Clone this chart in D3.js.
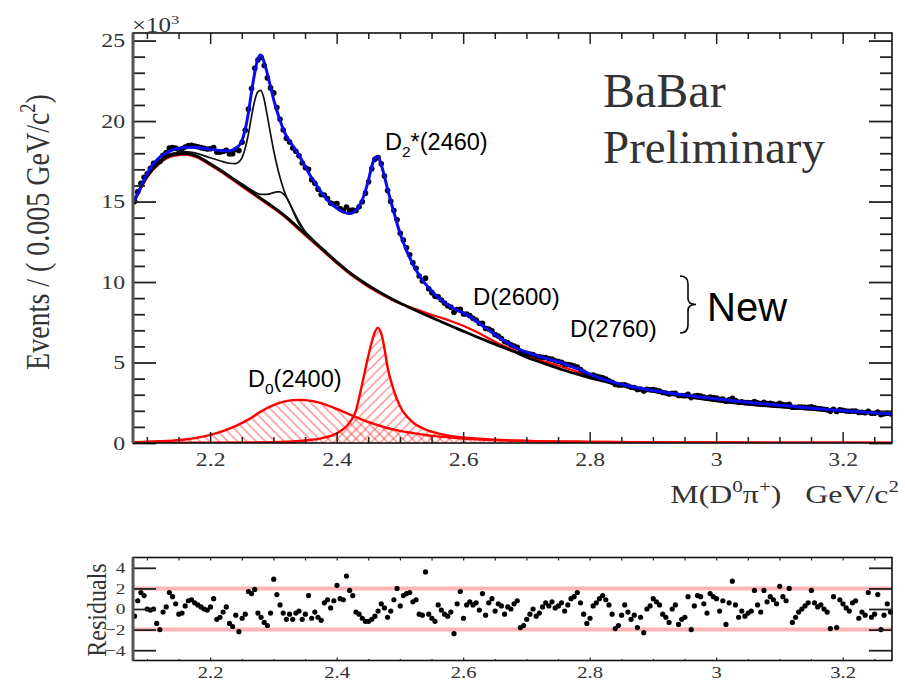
<!DOCTYPE html>
<html>
<head>
<meta charset="utf-8">
<script src="https://cdn.jsdelivr.net/npm/d3@7"></script>
<style>
  body { margin: 0; background: #fff; }
  svg { display: block; }
  .rootfont { font-family: "Liberation Serif", "Times New Roman", serif; fill: #333; }
  .ann { font-family: "Liberation Sans", Arial, sans-serif; fill: #000; }
</style>
</head>
<body>
<svg id="chart" width="905" height="681"></svg>
<script>
// ---------------- histogram: M(D0 pi+) in 5 MeV bins ----------------
const massLow = 2.078;
const binWidth = 0.005;
const nBins = 240;
const binCenters = d3.range(nBins).map(i => massLow + binWidth * (i + 0.5));

// events per bin, in units of 10^3
const events = [
  15.01, 15.60, 16.14, 16.51, 16.73, 17.07, 17.37, 17.38, 17.49, 17.87,
  18.04, 18.32, 18.36, 18.32, 18.23, 18.28, 18.39, 18.48, 18.49, 18.44,
  18.40, 18.35, 18.30, 18.26, 18.28, 18.35, 18.07, 18.06, 18.11, 18.18,
  17.96, 17.97, 18.23, 18.17, 18.68, 19.43, 20.74, 22.02, 23.28, 23.79,
  23.96, 23.45, 22.68, 22.06, 21.75, 20.84, 20.11, 19.44, 18.93, 18.70,
  18.33, 18.12, 17.84, 17.39, 17.10, 17.00, 16.35, 16.13, 15.77, 15.44,
  15.40, 15.19, 14.90, 14.84, 14.87, 14.56, 14.45, 14.66, 14.46, 14.47,
  14.43, 14.67, 14.99, 15.52, 16.23, 17.03, 17.62, 17.73, 17.35, 16.59,
  15.68, 15.01, 14.44, 13.87, 13.03, 12.60, 12.13, 11.69, 11.19, 10.86,
  10.37, 10.07, 10.24, 9.58, 9.34, 9.11, 9.08, 8.88, 8.69, 8.53,
  8.44, 8.13, 8.29, 8.30, 8.01, 8.01, 7.91, 7.75, 7.64, 7.44,
  7.44, 7.12, 7.08, 6.97, 6.73, 6.65, 6.49, 6.30, 6.23, 6.10,
  6.03, 5.95, 5.66, 5.60, 5.57, 5.53, 5.50, 5.39, 5.35, 5.33,
  5.31, 5.23, 5.21, 5.11, 5.06, 5.02, 4.90, 4.88, 4.85, 4.78,
  4.72, 4.57, 4.41, 4.27, 4.21, 4.22, 4.15, 4.10, 4.05, 3.97,
  3.87, 3.77, 3.63, 3.60, 3.61, 3.62, 3.54, 3.46, 3.44, 3.33,
  3.35, 3.23, 3.33, 3.31, 3.32, 3.27, 3.22, 3.14, 3.10, 3.04,
  3.08, 3.08, 2.95, 2.95, 2.94, 3.02, 2.82, 2.92, 2.95, 2.91,
  2.86, 2.79, 2.86, 2.82, 2.79, 2.71, 2.73, 2.59, 2.68, 2.77,
  2.63, 2.55, 2.56, 2.51, 2.51, 2.50, 2.58, 2.49, 2.45, 2.53,
  2.45, 2.46, 2.42, 2.39, 2.46, 2.39, 2.35, 2.40, 2.22, 2.22,
  2.23, 2.23, 2.21, 2.21, 2.25, 2.18, 2.14, 2.13, 2.10, 2.07,
  1.98, 2.10, 1.96, 2.06, 2.03, 1.99, 1.97, 1.99, 1.99, 1.90,
  1.91, 1.88, 1.97, 1.85, 1.85, 1.92, 1.76, 1.81, 1.85, 1.81
];

// fit residuals (pulls) per bin
const residuals = [
  -0.7, 0.8, 1.6, 1.3, 0.0, -0.1, 0.0, -1.4, -2.0, -0.3,
  0.2, 1.6, 1.2, 0.5, -0.5, -0.4, 0.3, 0.8, 0.9, 0.6,
  0.4, 0.2, 0.0, -0.1, 0.2, 1.0, -1.0, -0.8, -0.3, 0.2,
  -1.4, -1.7, -0.6, -2.2, -0.9, -0.5, 1.7, 1.5, 1.9, -0.4,
  -0.8, -1.3, -1.6, -0.4, 2.9, 1.4, 0.4, -0.4, -1.0, -0.5,
  -1.0, -0.4, -0.2, -1.0, -0.5, 1.3, -0.9, -0.3, -0.8, -1.1,
  0.6, 0.9, 0.1, 0.8, 2.3, 1.0, 0.9, 3.2, 1.8, 1.3,
  -0.3, -0.5, -0.9, -1.2, -1.2, -1.0, -0.7, -0.2, 0.5, 0.1,
  -0.8, -0.2, 0.9, 2.0, 0.3, 1.3, 1.5, 1.6, 0.7, 0.9,
  -0.5, -0.6, 3.6, -0.5, -0.9, -1.2, 0.4, -0.1, -0.5, -0.7,
  -0.3, -2.4, 0.5, 1.7, -0.9, 0.4, 0.7, 0.4, 0.6, -0.1,
  1.5, -0.6, 0.6, 1.0, -0.2, 0.5, 0.3, -0.5, 0.2, 0.0,
  0.5, 0.8, -1.8, -1.6, -1.0, -0.5, 0.0, -0.7, -0.4, 0.2,
  0.6, 0.3, 0.7, 0.1, 0.3, 0.6, -0.2, 0.4, 1.0, 1.2,
  1.6, 0.6, -0.5, -1.4, -0.9, 0.3, 0.6, 1.0, 1.3, 0.9,
  0.4, -0.5, -1.9, -1.6, -0.6, 0.4, -0.3, -1.0, -0.6, -1.8,
  -0.8, -2.3, 0.0, 0.3, 1.0, 0.7, 0.4, -0.5, -0.8, -1.3,
  0.0, 0.4, -1.5, -1.0, -0.8, 1.2, -2.0, 0.3, 1.3, 1.2,
  0.5, -0.4, 1.5, 1.2, 1.0, -0.2, 0.8, -1.5, 0.6, 2.7,
  0.4, -0.8, -0.2, -0.7, -0.4, -0.2, 1.8, 0.4, -0.3, 1.8,
  0.7, 1.2, 0.9, 0.5, 2.2, 1.2, 0.8, 2.0, -1.3, -0.8,
  -0.3, 0.0, 0.3, 0.6, 1.8, 0.6, 0.2, 0.4, 0.0, -0.3,
  -1.9, 1.2, -1.8, 0.9, 0.5, 0.1, -0.2, 0.6, 0.8, -0.9,
  -0.3, -0.6, 1.6, -0.8, -0.5, 1.4, -2.0, -0.6, 0.5, -0.3
];

// ---------------- fit curves (10^3 events / 5 MeV) ----------------
// total fit
const fitMass = [2.078, 2.085, 2.09, 2.095, 2.10, 2.105, 2.11, 2.115, 2.12, 2.125, 2.13, 2.14, 2.15, 2.16, 2.17, 2.18, 2.19, 2.20, 2.21, 2.22, 2.23, 2.235, 2.24, 2.245, 2.25, 2.255, 2.26, 2.265, 2.27, 2.275, 2.28, 2.285, 2.29, 2.295, 2.30, 2.305, 2.31, 2.315, 2.32, 2.325, 2.33, 2.34, 2.35, 2.36, 2.37, 2.38, 2.39, 2.40, 2.41, 2.42, 2.425, 2.43, 2.435, 2.44, 2.445, 2.45, 2.455, 2.46, 2.465, 2.47, 2.475, 2.48, 2.485, 2.49, 2.495, 2.50, 2.505, 2.51, 2.52, 2.53, 2.54, 2.55, 2.56, 2.57, 2.58, 2.59, 2.60, 2.61, 2.62, 2.63, 2.64, 2.65, 2.66, 2.67, 2.68, 2.69, 2.70, 2.72, 2.74, 2.76, 2.78, 2.80, 2.82, 2.84, 2.86, 2.88, 2.90, 2.92, 2.94, 2.96, 2.98, 3.00, 3.02, 3.04, 3.06, 3.08, 3.10, 3.12, 3.14, 3.16, 3.18, 3.20, 3.22, 3.24, 3.26, 3.278];
const totalFit = [14.95, 15.45, 15.9, 16.3, 16.7, 17.05, 17.35, 17.55, 17.75, 17.9, 18.0, 18.2, 18.3, 18.35, 18.37, 18.35, 18.3, 18.25, 18.2, 18.15, 18.15, 18.2, 18.3, 18.45, 18.75, 19.4, 20.4, 21.7, 22.9, 23.8, 24.1, 23.7, 23.0, 22.2, 21.4, 20.7, 20.1, 19.55, 19.1, 18.8, 18.5, 17.9, 17.2, 16.5, 15.9, 15.35, 14.9, 14.6, 14.35, 14.25, 14.3, 14.45, 14.7, 15.05, 15.6, 16.3, 17.1, 17.7, 17.8, 17.35, 16.65, 15.85, 15.1, 14.4, 13.7, 13.05, 12.5, 12.0, 11.15, 10.45, 9.9, 9.45, 9.05, 8.75, 8.48, 8.25, 8.08, 7.86, 7.6, 7.3, 7.02, 6.74, 6.47, 6.22, 5.99, 5.8, 5.64, 5.38, 5.16, 4.92, 4.62, 4.28, 3.98, 3.75, 3.56, 3.4, 3.26, 3.14, 3.03, 2.93, 2.83, 2.74, 2.65, 2.57, 2.49, 2.42, 2.35, 2.28, 2.2, 2.13, 2.07, 2.01, 1.95, 1.9, 1.85, 1.81];

// combinatorial background, and background plus D(2600) and D(2760)
const bgMass = [2.078, 2.09, 2.10, 2.12, 2.14, 2.16, 2.18, 2.20, 2.22, 2.24, 2.26, 2.28, 2.30, 2.32, 2.34, 2.36, 2.38, 2.40, 2.42, 2.44, 2.46, 2.48, 2.50, 2.52, 2.54, 2.56, 2.58, 2.60, 2.62, 2.64, 2.66, 2.68, 2.70, 2.72, 2.74, 2.76, 2.78, 2.80, 2.82, 2.84, 2.86, 2.88, 2.90, 2.92, 2.94, 2.96, 2.98, 3.00, 3.02, 3.04, 3.06, 3.08, 3.10, 3.12, 3.14, 3.16, 3.18, 3.20, 3.22, 3.24, 3.26, 3.278];
const background = [14.9, 15.85, 16.55, 17.45, 17.9, 18.0, 17.8, 17.35, 16.85, 16.3, 15.75, 15.2, 14.65, 14.05, 13.35, 12.65, 11.95, 11.25, 10.6, 10.05, 9.55, 9.1, 8.7, 8.33, 7.97, 7.62, 7.28, 6.95, 6.62, 6.3, 5.99, 5.69, 5.33, 5.05, 4.78, 4.52, 4.28, 4.05, 3.86, 3.68, 3.51, 3.36, 3.21, 3.07, 2.95, 2.83, 2.72, 2.62, 2.53, 2.45, 2.37, 2.3, 2.24, 2.18, 2.12, 2.06, 2.01, 1.96, 1.91, 1.86, 1.81, 1.77];
const bgWithNewStates = [14.82, 15.77, 16.47, 17.37, 17.82, 17.92, 17.72, 17.27, 16.77, 16.22, 15.67, 15.12, 14.57, 13.97, 13.27, 12.57, 11.87, 11.17, 10.52, 9.97, 9.47, 9.04, 8.66, 8.38, 8.1, 7.84, 7.58, 7.28, 6.92, 6.51, 6.1, 5.76, 5.42, 5.16, 4.93, 4.69, 4.43, 4.16, 3.92, 3.71, 3.52, 3.36, 3.21, 3.07, 2.95, 2.83, 2.72, 2.62, 2.53, 2.45, 2.37, 2.3, 2.24, 2.18, 2.12, 2.06, 2.01, 1.96, 1.91, 1.86, 1.81, 1.77];

// background plus both feed-down reflections
const feedMass = [2.078, 2.09, 2.10, 2.12, 2.14, 2.16, 2.18, 2.20, 2.22, 2.23, 2.24, 2.245, 2.25, 2.255, 2.26, 2.265, 2.27, 2.275, 2.28, 2.285, 2.29, 2.295, 2.30, 2.305, 2.31, 2.315, 2.32, 2.33, 2.34, 2.35, 2.36, 2.38, 2.40, 2.42, 2.44];
const bgWithFeedDown = [14.9, 15.88, 16.6, 17.55, 18.0, 18.1, 17.98, 17.72, 17.48, 17.38, 17.35, 17.45, 17.7, 18.25, 19.1, 20.2, 21.2, 21.8, 21.9, 21.4, 20.4, 19.3, 18.25, 17.35, 16.55, 15.9, 15.35, 14.55, 13.8, 13.15, 12.75, 12.0, 11.28, 10.62, 10.06];

// background plus the reflection at 2.32
const reflMass = [2.20, 2.22, 2.24, 2.25, 2.26, 2.27, 2.28, 2.29, 2.30, 2.305, 2.31, 2.315, 2.32, 2.325, 2.33, 2.335, 2.34, 2.35, 2.36, 2.38, 2.40];
const bgWithReflection = [17.35, 16.87, 16.35, 16.1, 15.85, 15.6, 15.45, 15.45, 15.55, 15.6, 15.6, 15.5, 15.3, 14.95, 14.5, 14.05, 13.65, 13.1, 12.68, 11.96, 11.26];

// D0*(2400) component
const d0Mass = [2.078, 2.10, 2.12, 2.14, 2.16, 2.18, 2.20, 2.22, 2.24, 2.26, 2.28, 2.30, 2.32, 2.34, 2.36, 2.38, 2.40, 2.42, 2.44, 2.46, 2.48, 2.50, 2.52, 2.54, 2.56, 2.58, 2.60, 2.65, 2.70, 2.80, 2.90, 3.00, 3.10, 3.20, 3.278];
const d0_2400 = [0.05, 0.08, 0.11, 0.15, 0.22, 0.33, 0.5, 0.74, 1.05, 1.45, 1.95, 2.35, 2.6, 2.68, 2.62, 2.42, 2.12, 1.78, 1.45, 1.17, 0.93, 0.75, 0.62, 0.5, 0.41, 0.34, 0.28, 0.18, 0.12, 0.07, 0.04, 0.03, 0.02, 0.015, 0.01];

// D2*(2460) component
const d2Mass = [2.078, 2.20, 2.30, 2.34, 2.38, 2.40, 2.42, 2.43, 2.44, 2.45, 2.455, 2.46, 2.465, 2.47, 2.475, 2.48, 2.49, 2.50, 2.52, 2.54, 2.56, 2.58, 2.60, 2.65, 2.70, 2.80, 2.90, 3.00, 3.10, 3.20, 3.278];
const d2_2460 = [0.01, 0.02, 0.05, 0.12, 0.33, 0.6, 1.25, 1.95, 3.6, 5.4, 6.2, 6.85, 7.15, 6.85, 6.0, 4.8, 3.3, 2.3, 1.3, 0.85, 0.6, 0.44, 0.34, 0.2, 0.13, 0.07, 0.045, 0.03, 0.025, 0.02, 0.015];

// axis ticks
const xMajorTicks = [2.2, 2.4, 2.6, 2.8, 3.0, 3.2];
const xMinorTicks = [2.1, 2.15, 2.25, 2.3, 2.35, 2.45, 2.5, 2.55, 2.65, 2.7, 2.75, 2.85, 2.9, 2.95, 3.05, 3.1, 3.15, 3.25];
const yMajorTicks = [0, 5, 10, 15, 20, 25];
const yMinorTicks = [1, 2, 3, 4, 6, 7, 8, 9, 11, 12, 13, 14, 16, 17, 18, 19, 21, 22, 23, 24];
const resTicks = [-4, -2, 0, 2, 4];
const resBands = [-2, 2];

// ---------------- layout ----------------
const svg = d3.select('#chart');
const X0 = 133, X1 = 892, Y0 = 443, Y1 = 33;
const R0 = 660.5, R1 = 557.5;
const STRETCH = 1.25;   // ROOT canvas text is wider than tall

const x = d3.scaleLinear().domain([2.078, 3.278]).range([X0, X1]);
const y = d3.scaleLinear().domain([0, 25.47]).range([Y0, Y1]);
const yr = d3.scaleLinear().domain([-5, 5]).range([R0, R1]);

const defs = svg.append('defs');
defs.append('clipPath').attr('id', 'plotClip')
  .append('rect').attr('x', X0).attr('y', Y1).attr('width', X1 - X0).attr('height', Y0 - Y1);

function hatch(id, angle) {
  const p = defs.append('pattern').attr('id', id)
    .attr('patternUnits', 'userSpaceOnUse')
    .attr('width', 6.6).attr('height', 6.6)
    .attr('patternTransform', `rotate(${angle})`);
  p.append('line').attr('x1', 1).attr('y1', 0).attr('x2', 1).attr('y2', 6.6)
    .attr('stroke', '#ff2a2a').attr('stroke-width', 1.1).attr('stroke-opacity', 0.7);
}
hatch('hatchBack', -45);
hatch('hatchFwd', 45);

function curvePath(xs, ys, yScale) {
  return d3.line().x((d, i) => x(xs[i])).y(d => yScale(d)).curve(d3.curveMonotoneX)(ys);
}
function areaPath(xs, ys) {
  return d3.area().x((d, i) => x(xs[i])).y0(y(0)).y1(d => y(d)).curve(d3.curveMonotoneX)(ys);
}

// rich text with super/subscripts, sizes in px
function richText(sel, parts, fs) {
  let shift = 0;
  parts.forEach(p => {
    const target = p.sup ? -0.42 * fs : (p.sub ? 0.3 * fs : 0);
    sel.append('tspan')
      .attr('dy', target - shift)
      .attr('font-size', (p.sup || p.sub) ? fs * 0.66 : fs)
      .text(p.t);
    shift = target;
  });
}

// ---------------- main panel ----------------
const plot = svg.append('g').attr('clip-path', 'url(#plotClip)');

plot.append('path').attr('d', areaPath(d0Mass, d0_2400)).attr('fill', 'url(#hatchBack)');
plot.append('path').attr('d', areaPath(d2Mass, d2_2460)).attr('fill', 'url(#hatchFwd)');

plot.append('path').attr('d', curvePath(d0Mass, d0_2400, y))
  .attr('fill', 'none').attr('stroke', '#ff0000').attr('stroke-width', 2.4);
plot.append('path').attr('d', curvePath(d2Mass, d2_2460, y))
  .attr('fill', 'none').attr('stroke', '#ff0000').attr('stroke-width', 2.4);

plot.append('path').attr('d', curvePath(bgMass, bgWithNewStates, y))
  .attr('fill', 'none').attr('stroke', '#ff0000').attr('stroke-width', 2.2);
plot.append('path').attr('d', curvePath(bgMass, background, y))
  .attr('fill', 'none').attr('stroke', '#000').attr('stroke-width', 2.8);
plot.append('path').attr('d', curvePath(reflMass, bgWithReflection, y))
  .attr('fill', 'none').attr('stroke', '#111').attr('stroke-width', 1.7);
plot.append('path').attr('d', curvePath(feedMass, bgWithFeedDown, y))
  .attr('fill', 'none').attr('stroke', '#111').attr('stroke-width', 1.7);

plot.append('g').selectAll('circle').data(events).join('circle')
  .attr('cx', (d, i) => x(binCenters[i])).attr('cy', d => y(d))
  .attr('r', 2.8).attr('fill', '#000');

plot.append('path').attr('d', curvePath(fitMass, totalFit, y))
  .attr('fill', 'none').attr('stroke', '#0a0aef').attr('stroke-width', 3);

// frame and axes
function styleTicks(g, w) {
  g.select('.domain').remove();
  g.selectAll('.tick line').attr('stroke', '#222').attr('stroke-width', w || 1.5);
}
function stretchLabels(g, fs) {
  g.selectAll('.tick text')
    .attr('class', 'rootfont').attr('font-size', fs).attr('fill', '#333')
    .attr('transform', `scale(${STRETCH},1)`);
}

svg.append('g').attr('transform', `translate(0,${Y0})`)
  .call(d3.axisBottom(x).tickValues(xMajorTicks).tickSize(-11).tickPadding(10).tickFormat(d3.format('~g')))
  .call(g => { styleTicks(g); stretchLabels(g, 19); });
svg.append('g').attr('transform', `translate(0,${Y0})`)
  .call(d3.axisBottom(x).tickValues(xMinorTicks).tickSize(-6).tickFormat(''))
  .call(g => styleTicks(g));
svg.append('g').attr('transform', `translate(0,${Y1})`)
  .call(d3.axisTop(x).tickValues(xMajorTicks).tickSize(-11).tickFormat(''))
  .call(g => styleTicks(g));
svg.append('g').attr('transform', `translate(0,${Y1})`)
  .call(d3.axisTop(x).tickValues(xMinorTicks).tickSize(-6).tickFormat(''))
  .call(g => styleTicks(g));

svg.append('g').attr('transform', `translate(${X0},0)`)
  .call(d3.axisLeft(y).tickValues(yMajorTicks).tickSize(-23).tickPadding(6.4).tickFormat(d3.format('d')))
  .call(g => { styleTicks(g, 1.8); stretchLabels(g, 19); });
svg.append('g').attr('transform', `translate(${X0},0)`)
  .call(d3.axisLeft(y).tickValues(yMinorTicks).tickSize(-12).tickFormat(''))
  .call(g => styleTicks(g, 1.8));
svg.append('g').attr('transform', `translate(${X1},0)`)
  .call(d3.axisRight(y).tickValues(yMajorTicks).tickSize(-23).tickFormat(''))
  .call(g => styleTicks(g, 1.8));
svg.append('g').attr('transform', `translate(${X1},0)`)
  .call(d3.axisRight(y).tickValues(yMinorTicks).tickSize(-12).tickFormat(''))
  .call(g => styleTicks(g, 1.8));

svg.append('rect').attr('x', X0).attr('y', Y1).attr('width', X1 - X0).attr('height', Y0 - Y1)
  .attr('fill', 'none').attr('stroke', '#111').attr('stroke-width', 1.6);
svg.append('line').attr('x1', X0).attr('x2', X0).attr('y1', Y1).attr('y2', Y0)
  .attr('stroke', '#555').attr('stroke-width', 3);

// exponent and axis titles
const expo = svg.append('g').attr('transform', `translate(${X0 - 1},32) scale(${STRETCH},1)`)
  .append('text').attr('class', 'rootfont');
richText(expo, [{ t: '×10' }, { t: '3', sup: true }], 20);

const ytitle = svg.append('g').attr('transform', `translate(49,232) rotate(-90) scale(1,1.2)`)
  .append('text').attr('class', 'rootfont').attr('text-anchor', 'middle').style('white-space', 'pre');
richText(ytitle, [{ t: 'Events / ( 0.005 GeV/c' }, { t: '2', sup: true }, { t: ')' }], 28);

const xtitle = svg.append('g').attr('transform', `translate(899,503) scale(${STRETCH},1)`)
  .append('text').attr('class', 'rootfont').attr('text-anchor', 'end').style('white-space', 'pre');
richText(xtitle, [{ t: 'M(D' }, { t: '0', sup: true }, { t: 'π' }, { t: '+', sup: true }, { t: ')   GeV/c' }, { t: '2', sup: true }], 25.5);

// experiment label
svg.append('text').attr('class', 'rootfont').attr('x', 603).attr('y', 107)
  .attr('font-size', 48).attr('fill', '#111').text('BaBar');
svg.append('text').attr('class', 'rootfont').attr('x', 603).attr('y', 163)
  .attr('font-size', 47).attr('fill', '#111').text('Preliminary');

// resonance labels
const lblD2 = svg.append('text').attr('class', 'ann').attr('x', 385).attr('y', 150);
richText(lblD2, [{ t: 'D' }, { t: '2', sub: true }, { t: '*(2460)' }], 23.5);
const lblD0 = svg.append('text').attr('class', 'ann').attr('x', 248).attr('y', 387);
richText(lblD0, [{ t: 'D' }, { t: '0', sub: true }, { t: '(2400)' }], 23.5);
svg.append('text').attr('class', 'ann').attr('x', 473).attr('y', 305).attr('font-size', 24).text('D(2600)');
svg.append('text').attr('class', 'ann').attr('x', 570).attr('y', 337).attr('font-size', 24).text('D(2760)');

// brace grouping the two new states
const bx = 680, bTop = 276, bBot = 333, bMid = (bTop + bBot) / 2;
const brace = d3.path();
brace.moveTo(bx, bTop);
brace.quadraticCurveTo(bx + 8, bTop, bx + 8, bTop + 8);
brace.lineTo(bx + 8, bMid - 6);
brace.quadraticCurveTo(bx + 8, bMid, bx + 16, bMid);
brace.quadraticCurveTo(bx + 8, bMid, bx + 8, bMid + 6);
brace.lineTo(bx + 8, bBot - 8);
brace.quadraticCurveTo(bx + 8, bBot, bx, bBot);
svg.append('path').attr('d', brace.toString()).attr('fill', 'none').attr('stroke', '#000').attr('stroke-width', 1.6);
svg.append('text').attr('class', 'ann').attr('x', 707).attr('y', 321).attr('font-size', 40).text('New');

// ---------------- residual panel ----------------
const res = svg.append('g');
res.selectAll('line.band').data(resBands).join('line').attr('class', 'band')
  .attr('x1', X0).attr('x2', X1).attr('y1', d => yr(d)).attr('y2', d => yr(d))
  .attr('stroke', '#ff9c9c').attr('stroke-opacity', 0.75).attr('stroke-width', 4);

res.append('g').selectAll('circle').data(residuals).join('circle')
  .attr('cx', (d, i) => x(binCenters[i])).attr('cy', d => yr(d))
  .attr('r', 2.6).attr('fill', '#000');

svg.append('g').attr('transform', `translate(${X0},0)`)
  .call(d3.axisLeft(yr).tickValues(resTicks).tickSize(-23).tickPadding(6).tickFormat(d3.format('d')))
  .call(g => { styleTicks(g, 1.8); stretchLabels(g, 15.5); });
svg.append('g').attr('transform', `translate(${X1},0)`)
  .call(d3.axisRight(yr).tickValues(resTicks).tickSize(-23).tickFormat(''))
  .call(g => styleTicks(g, 1.8));
svg.append('g').attr('transform', `translate(0,${R0})`)
  .call(d3.axisBottom(x).tickValues(xMajorTicks).tickSize(-3).tickPadding(6).tickFormat(d3.format('~g')))
  .call(g => { styleTicks(g, 1.2); stretchLabels(g, 16.5); });
svg.append('g').attr('transform', `translate(0,${R0})`)
  .call(d3.axisBottom(x).tickValues(xMinorTicks).tickSize(-1.5).tickFormat(''))
  .call(g => styleTicks(g, 1.2));
svg.append('g').attr('transform', `translate(0,${R1})`)
  .call(d3.axisTop(x).tickValues(xMajorTicks.concat(xMinorTicks)).tickSize(-3).tickFormat(''))
  .call(g => styleTicks(g, 1.2));

svg.append('rect').attr('x', X0).attr('y', R1).attr('width', X1 - X0).attr('height', R0 - R1)
  .attr('fill', 'none').attr('stroke', '#111').attr('stroke-width', 1.6);
svg.append('line').attr('x1', X0).attr('x2', X0).attr('y1', R1).attr('y2', R0)
  .attr('stroke', '#555').attr('stroke-width', 3);

svg.append('g').attr('transform', `translate(106,610) rotate(-90) scale(1,1.15)`)
  .append('text').attr('class', 'rootfont').attr('text-anchor', 'middle')
  .attr('font-size', 24).text('Residuals');
</script>
</body>
</html>
